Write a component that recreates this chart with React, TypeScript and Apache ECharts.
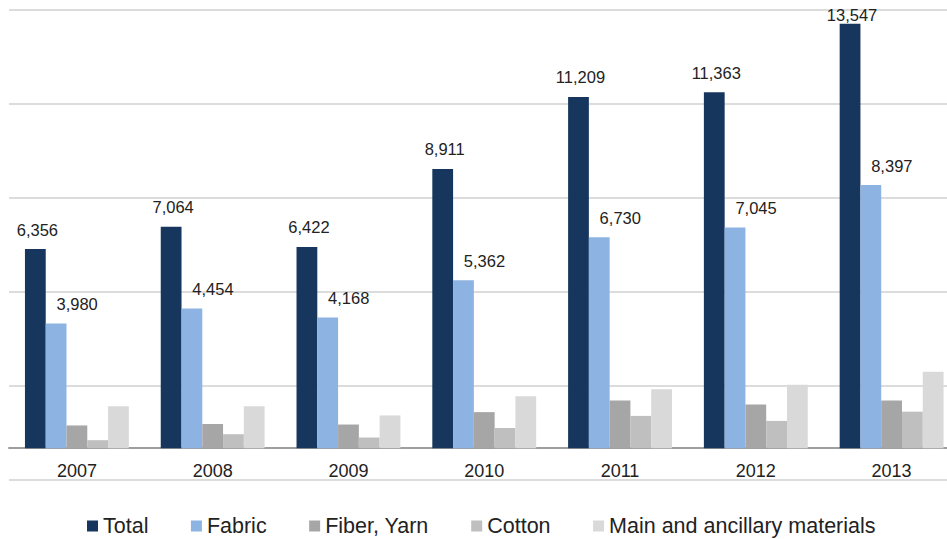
import React, { useEffect, useRef } from "react";
import * as echarts from "echarts";

// Years on the category axis
const years = ["2007", "2008", "2009", "2010", "2011", "2012", "2013"];

// Import values per category
const total = [6356, 7064, 6422, 8911, 11209, 11363, 13547];
const fabric = [3980, 4454, 4168, 5362, 6730, 7045, 8397];
const fiberYarn = [725, 775, 755, 1150, 1520, 1390, 1520];
const cotton = [255, 445, 340, 640, 1030, 870, 1165];
const mainAncillary = [1340, 1340, 1045, 1660, 1880, 2020, 2440];

const seriesNames = ["Total", "Fabric", "Fiber, Yarn", "Cotton", "Main and ancillary materials"];

// Value axis range and gridline step
const yMin = -1000;
const yMax = 14000;
const yStep = 3000;

const FONT = "'Liberation Sans', Arial, sans-serif";
const TEXT = "#222222";

const COLORS = ["#17365d", "#8db3e2", "#a6a6a6", "#bfbfbf", "#d9d9d9"];

const fmt = (v: number) => v.toLocaleString("en-US");

export default function App() {
  const ref = useRef<HTMLDivElement>(null);

  useEffect(() => {
    document.body.style.margin = "0";
    if (!ref.current) return;
    const chart = echarts.init(ref.current, undefined, { renderer: "svg" });

    const labelStyle = {
      show: true,
      position: "top" as const,
      distance: 11,
      fontFamily: FONT,
      fontSize: 16.5,
      color: TEXT,
      formatter: (p: any) => fmt(p.value),
    };

    // Labels too close to the top of the plot sit right on their bar
    const totalData = total.map((v) =>
      yMax - v < 1000 ? { value: v, label: { distance: 0 } } : v
    );

    const values = [totalData, fabric, fiberYarn, cotton, mainAncillary];

    const series: any[] = values.map((data, i) => {
      const s: any = {
        name: seriesNames[i],
        type: "bar",
        data,
        barGap: "0%",
        barCategoryGap: "23.5%",
        itemStyle: { color: COLORS[i] },
      };
      if (i === 0) s.label = { ...labelStyle, offset: [2, 0] };
      if (i === 1) s.label = { ...labelStyle, offset: [21, 0] };
      return s;
    });

    chart.setOption({
      animation: false,
      backgroundColor: "#ffffff",
      textStyle: { fontFamily: FONT },
      // The plot runs a little past the right edge of the canvas
      grid: {
        left: 9,
        width: 950.5,
        top: 9.5,
        bottom: 59.5,
        containLabel: false,
        outerBoundsMode: "none",
      },
      legend: {
        data: seriesNames,
        left: 82,
        top: 510,
        icon: "rect",
        itemWidth: 11,
        itemHeight: 11,
        itemGap: 42.5,
        textStyle: { fontFamily: FONT, fontSize: 21.5, color: TEXT },
      },
      xAxis: {
        type: "category",
        data: years,
        axisLine: { show: true, onZero: true, lineStyle: { color: "#9e9e9e", width: 2 } },
        axisTick: { show: false },
        // labels sit between the zero line and the lowest gridline
        axisLabel: { fontFamily: FONT, fontSize: 18, color: TEXT, margin: -18 },
        splitLine: { show: false },
      },
      yAxis: {
        type: "value",
        min: yMin,
        max: yMax,
        interval: yStep,
        axisLine: { show: false },
        axisTick: { show: false },
        axisLabel: { show: false },
        splitLine: { show: true, lineStyle: { color: "#dcdcdc", width: 2 } },
      },
      series,
    });

    return () => chart.dispose();
  }, []);

  return <div ref={ref} style={{ width: 947, height: 539 }} />;
}
